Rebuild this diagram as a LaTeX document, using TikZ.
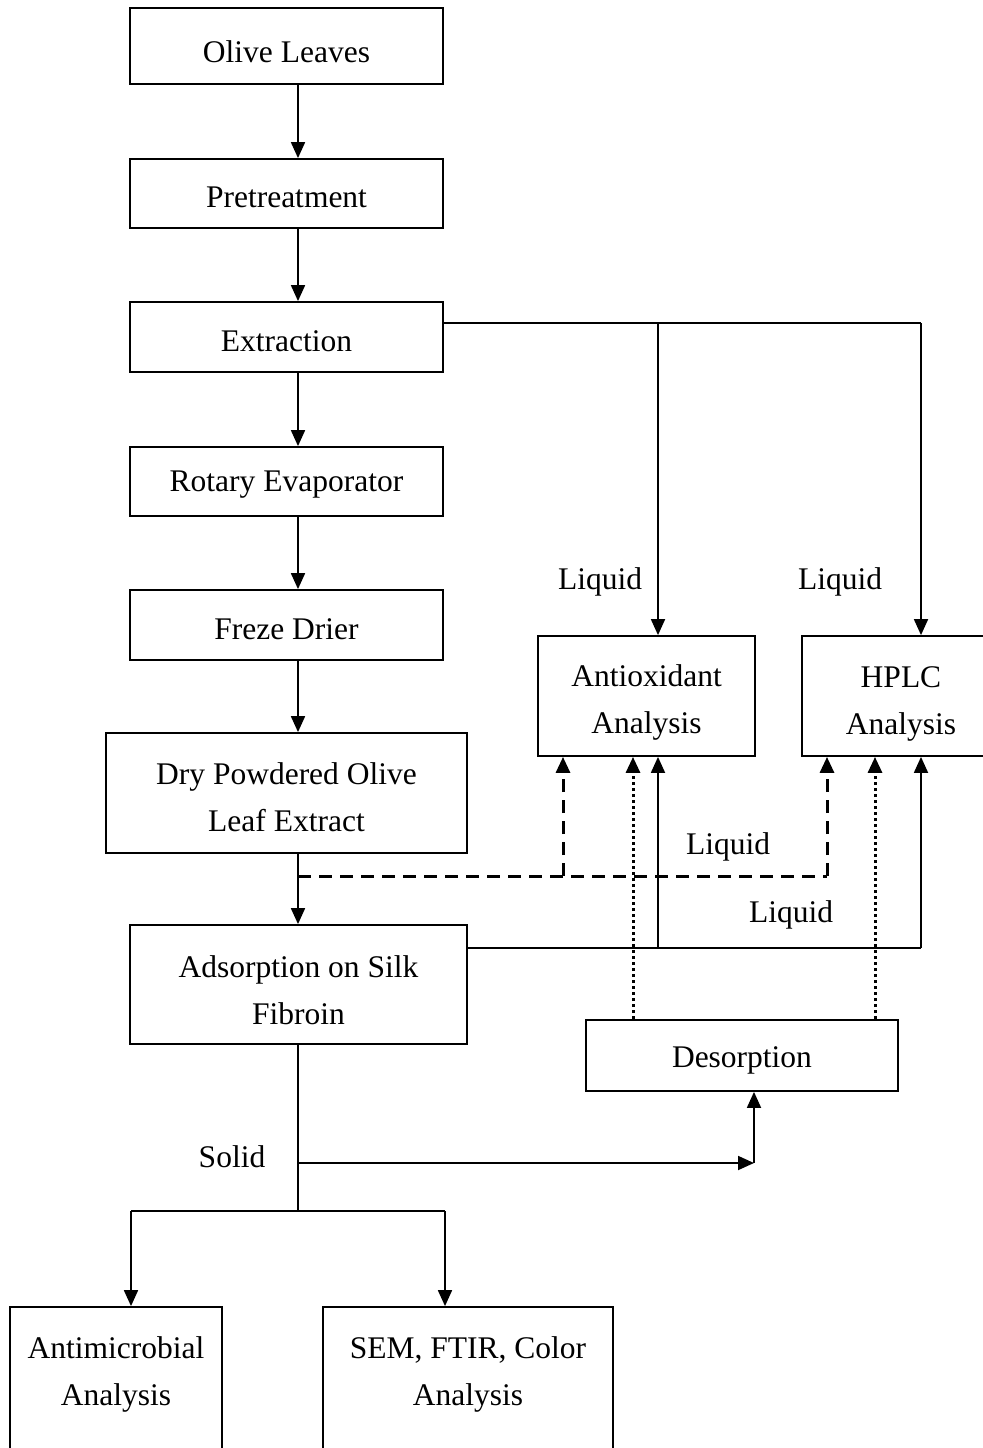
\documentclass[tikz,border=0pt]{standalone}
\usepackage{fontspec}
\setmainfont{Liberation Serif}
\usetikzlibrary{arrows.meta}
\begin{document}
\begin{tikzpicture}[x=0.5pt,y=-0.5pt,
  frame/.style={draw,line width=0.9pt,inner sep=0pt},
  txt/.style={align=center,inner sep=0pt,font=\fontsize{15.75}{23.5}\selectfont},
  lbl/.style={font=\fontsize{15.75}{23.5}\selectfont,inner sep=0pt},
  conn/.style={line width=0.9pt},
  arr/.style={line width=0.9pt,-{Triangle[length=8pt,width=7pt]}},
  dsh/.style={line width=1.5pt,dash pattern=on 6.5pt off 4pt,-{Triangle[length=8pt,width=7pt]}},
  dtt/.style={line width=1.5pt,dash pattern=on 1.5pt off 1.5pt,-{Triangle[length=8pt,width=7pt]}}]
\clip (0,0) rectangle (983,1448);
\useasboundingbox (0,0) rectangle (983,1448);
% boxes
\node[frame,minimum width=156.5pt,minimum height=38pt] (olive) at (286.5,46) {};
\node[frame,minimum width=156.5pt,minimum height=34.5pt] (pre) at (286.5,193.5) {};
\node[frame,minimum width=156.5pt,minimum height=35pt] (ext) at (286.5,337) {};
\node[frame,minimum width=156.5pt,minimum height=34.5pt] (rot) at (286.5,481.5) {};
\node[frame,minimum width=156.5pt,minimum height=35pt] (frz) at (286.5,625) {};
\node[frame,minimum width=180.5pt,minimum height=60pt] (dry) at (286.5,793) {};
\node[frame,minimum width=168.5pt,minimum height=59.5pt] (ads) at (298.5,984.5) {};
\node[frame,minimum width=108.5pt,minimum height=60pt] (anti) at (646.5,696) {};
\node[frame,minimum width=94pt,minimum height=60pt] (hplc) at (896,696) {};
\node[frame,minimum width=156pt,minimum height=35.5pt] (des) at (742,1055.5) {};
\node[frame,minimum width=106pt,minimum height=72.5pt] (amic) at (116,1379.5) {};
\node[frame,minimum width=145pt,minimum height=72.5pt] (sem) at (468,1379.5) {};
% box texts
\node[txt] (olive-t) at (286.5,52) {Olive Leaves};
\node[txt] (pre-t) at (286.5,197) {Pretreatment};
\node[txt] (ext-t) at (286.5,341) {Extraction};
\node[txt] (rot-t) at (286.5,485) {Rotary Evaporator};
\node[txt] (frz-t) at (286.5,629) {Freze Drier};
\node[txt] (dry-t) at (286.5,797) {Dry Powdered Olive\\Leaf Extract};
\node[txt] (ads-t) at (298.5,990) {Adsorption on Silk\\Fibroin};
\node[txt] (anti-t) at (646.5,702) {Antioxidant\\Analysis};
\node[txt] (hplc-t) at (901,704) {HPLC\\Analysis};
\node[txt] (des-t) at (742,1060) {Desorption};
\node[txt] (amic-t) at (116,1374) {Antimicrobial\\Analysis};
\node[txt] (sem-t) at (468,1374) {SEM, FTIR, Color\\Analysis};
% labels
\node[lbl] (l1) at (600,582) {Liquid};
\node[lbl] (l2) at (840,582) {Liquid};
\node[lbl] (l3) at (728,847) {Liquid};
\node[lbl] (l4) at (791,915) {Liquid};
\node[lbl] (l5) at (232,1157) {Solid};
% coordinates
\coordinate (mx) at (298,0);
\coordinate (hr) at (921,323);
\coordinate (ja) at (658,323);
\coordinate (d0) at (298,876);
\coordinate (da) at (563,876);
\coordinate (dh) at (827,876);
\coordinate (s0) at (921,948);
\coordinate (sa) at (658,948);
\coordinate (ta) at (633,0);
\coordinate (th) at (875,0);
\coordinate (b0) at (298,1163);
\coordinate (b1) at (754,1163);
\coordinate (c0) at (298,1211);
\coordinate (cl) at (131,1211);
\coordinate (cr) at (445,1211);
% main chain
\draw[arr] (olive.south -| mx) -- (pre.north -| mx);
\draw[arr] (pre.south -| mx) -- (ext.north -| mx);
\draw[arr] (ext.south -| mx) -- (rot.north -| mx);
\draw[arr] (rot.south -| mx) -- (frz.north -| mx);
\draw[arr] (frz.south -| mx) -- (dry.north -| mx);
\draw[arr] (dry.south -| mx) -- (ads.north -| mx);
% extraction branches
\draw[conn] (ext.east |- hr) -- (hr);
\draw[arr] (hr) -- (hplc.north -| hr);
\draw[arr] (ja) -- (anti.north -| ja);
% dashed
\draw[line width=1.5pt,dash pattern=on 6.5pt off 4pt] (d0) -- (dh);
\draw[dsh] (dh) -- (hplc.south -| dh);
\draw[dsh] (da) -- (anti.south -| da);
% solid from adsorption
\draw[conn] (ads.east |- s0) -- (s0);
\draw[arr] (s0) -- (hplc.south -| s0);
\draw[arr] (sa) -- (anti.south -| sa);
% dotted from desorption
\draw[dtt] (des.north -| ta) -- (anti.south -| ta);
\draw[dtt] (des.north -| th) -- (hplc.south -| th);
% bottom
\draw[conn] (ads.south -| mx) -- (c0);
\draw[arr] (b0) -- (b1);
\draw[arr] (b1) -- (des.south -| b1);
\draw[conn] (cl) -- (cr);
\draw[arr] (cl) -- (amic.north -| cl);
\draw[arr] (cr) -- (sem.north -| cr);
\end{tikzpicture}
\end{document}
